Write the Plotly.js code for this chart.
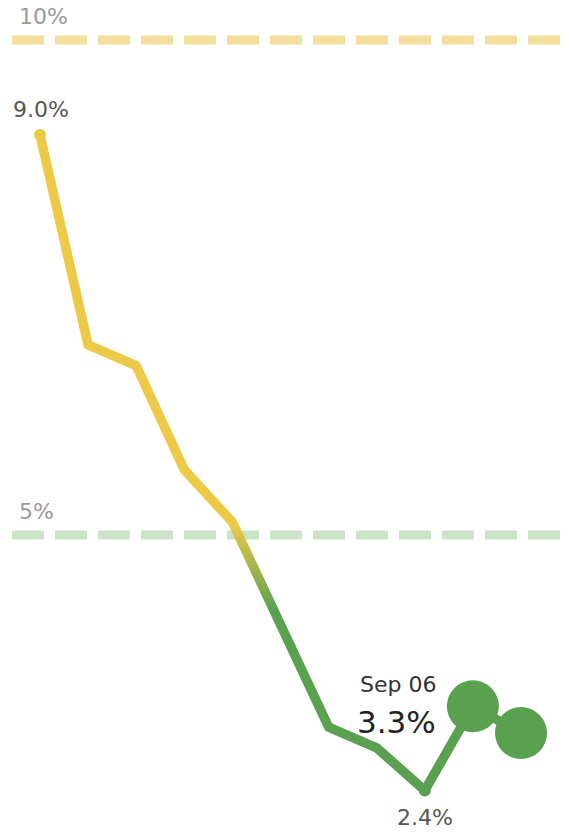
<!DOCTYPE html>
<html>
<head>
<meta charset="utf-8">
<script src="https://cdn.plot.ly/plotly-3.0.1.min.js"></script>
<style>
html,body{margin:0;padding:0;background:#fff;}
#chart{width:564px;height:836px;}
</style>
</head>
<body>
<div id="chart"></div>
<script>
// ---- data ----
const dates = ["Jul 05","Jul 12","Jul 19","Jul 26","Aug 02","Aug 09","Aug 16","Aug 23","Aug 30","Sep 06","Sep 13"];
const rates = [9.04, 6.92, 6.71, 5.66, 5.13, 4.10, 3.06, 2.85, 2.42, 3.27, 3.00];
const refValues = [10, 5];
const refLabels = ["10%", "5%"];
const highlightIndex = 9;      // Sep 06
const labelIndices = [0, 8];   // 9.0% and 2.4%

// ---- styling ----
const YELLOW = "#EDC948";
const GREEN = "#59A14F";
const refColors = ["#F3DF9B", "#CBE3C6"];
const FONT = "DejaVu Sans, sans-serif";

const xIdx = dates.map((d, i) => i);
const markerSizes = rates.map((v, i) => (i === highlightIndex || i === rates.length - 1) ? 52 : (labelIndices.includes(i) ? 12 : 0));
const markerColors = rates.map(v => v >= 5 ? YELLOW : GREEN);

const traces = [
  {
    x: xIdx, y: rates, mode: "lines", type: "scatter",
    line: {color: YELLOW, width: 9.5},
    hoverinfo: "skip", showlegend: false
  },
  {
    x: xIdx, y: rates, mode: "markers", type: "scatter",
    marker: {size: markerSizes, color: markerColors, opacity: 1, line: {width: 0}},
    hoverinfo: "skip", showlegend: false
  }
];

const shapes = refValues.map((v, i) => ({
  type: "line", xref: "paper", yref: "y",
  x0: 12 / 564, x1: 1, y0: v, y1: v,
  line: {color: refColors[i], width: 9, dash: "32px,11px"},
  layer: "below"
}));

const annotations = [];
refValues.forEach((v, i) => {
  annotations.push({
    xref: "paper", yref: "y", x: 17 / 564, y: v, xanchor: "left", yanchor: "middle",
    yshift: 24, showarrow: false, text: refLabels[i],
    font: {family: FONT, size: 22, color: "#999999"}
  });
});
annotations.push({
  xref: "x", yref: "y", x: xIdx[labelIndices[0]], y: rates[labelIndices[0]],
  xanchor: "center", yanchor: "middle", yshift: 26, xshift: 1, showarrow: false,
  text: rates[labelIndices[0]].toFixed(1) + "%",
  font: {family: FONT, size: 22, color: "#555"}
});
annotations.push({
  xref: "x", yref: "y", x: xIdx[labelIndices[1]], y: rates[labelIndices[1]],
  xanchor: "center", yanchor: "middle", yshift: -27, showarrow: false,
  text: rates[labelIndices[1]].toFixed(1) + "%",
  font: {family: FONT, size: 22, color: "#555"}
});
annotations.push({
  xref: "x", yref: "y", x: xIdx[highlightIndex], y: rates[highlightIndex],
  xanchor: "right", yanchor: "middle", yshift: 22, xshift: -35, showarrow: false,
  text: dates[highlightIndex],
  font: {family: FONT, size: 22, color: "#333"}
});
annotations.push({
  xref: "x", yref: "y", x: xIdx[highlightIndex], y: rates[highlightIndex],
  xanchor: "right", yanchor: "middle", yshift: -16, xshift: -35, showarrow: false,
  text: rates[highlightIndex].toFixed(1) + "%",
  font: {family: FONT, size: 31, color: "#222"}
});

const layout = {
  width: 564, height: 836,
  margin: {l: 0, r: 0, t: 0, b: 0, pad: 0},
  paper_bgcolor: "#fff", plot_bgcolor: "#fff",
  xaxis: {range: [-0.832, 10.894], visible: false, fixedrange: true},
  yaxis: {range: [1.96, 10.404], visible: false, fixedrange: true},
  shapes: shapes,
  annotations: annotations,
  showlegend: false
};

const gd = document.getElementById("chart");
Plotly.newPlot(gd, traces, layout, {displayModeBar: false, staticPlot: true}).then(() => {
  const ya = gd._fullLayout.yaxis;
  const svg = gd.querySelector("svg.main-svg");
  const ns = "http://www.w3.org/2000/svg";
  let defs = svg.querySelector("defs");
  if (!defs) { defs = document.createElementNS(ns, "defs"); svg.insertBefore(defs, svg.firstChild); }
  const grad = document.createElementNS(ns, "linearGradient");
  grad.setAttribute("id", "rateGrad");
  grad.setAttribute("gradientUnits", "userSpaceOnUse");
  grad.setAttribute("x1", 0); grad.setAttribute("x2", 0);
  grad.setAttribute("y1", ya.l2p(5.1)); grad.setAttribute("y2", ya.l2p(4.25));
  [[0, YELLOW], [1, GREEN]].forEach(([o, c]) => {
    const s = document.createElementNS(ns, "stop");
    s.setAttribute("offset", o); s.setAttribute("stop-color", c);
    grad.appendChild(s);
  });
  defs.appendChild(grad);
  const lineTrace = gd.querySelectorAll(".scatterlayer .trace")[0];
  lineTrace.querySelectorAll("path.js-line").forEach(p => {
    p.style.stroke = "url(#rateGrad)";
    p.style.strokeLinejoin = "round";
  });
});
</script>
</body>
</html>
